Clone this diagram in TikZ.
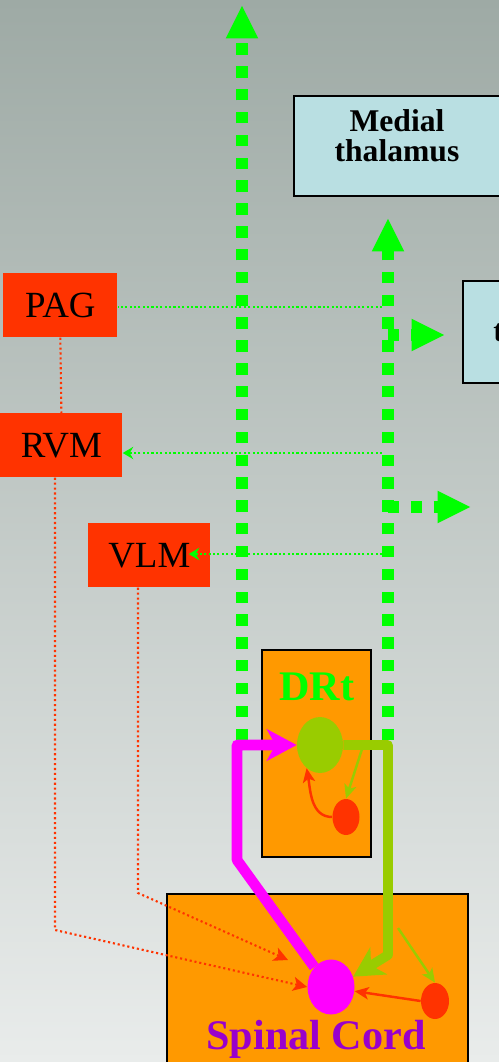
\documentclass[tikz,border=0pt]{standalone}
\usepackage{fontspec}
\setmainfont{Liberation Serif}
\usetikzlibrary{shapes.geometric,arrows.meta,positioning,calc}
\definecolor{nucred}{HTML}{FF3300}
\definecolor{areaorange}{HTML}{FF9900}
\definecolor{thalblue}{HTML}{B9DFE2}
\definecolor{tractgreen}{HTML}{00FF00}
\definecolor{olivecell}{HTML}{99CC00}
\definecolor{pinkcell}{HTML}{FF00FF}
\definecolor{cordpurple}{HTML}{9900CC}
\definecolor{bgtop}{HTML}{9EAAA5}
\definecolor{bgbottom}{HTML}{E9ECEB}
\def\px{0.02cm}

\begin{document}
\begin{tikzpicture}[
  x=0.02cm, y=-0.02cm,
  nuc/.style={rectangle, fill=nucred, anchor=north west, inner sep=0pt,
              minimum height=64*\px, font=\fontsize{21}{21}\selectfont},
  thal/.style={rectangle, draw, line width=1.3pt, fill=thalblue, anchor=north west, inner sep=0pt},
  area/.style={rectangle, draw, line width=1.3pt, fill=areaorange, anchor=north west, inner sep=0pt},
  cell/.style={ellipse, inner sep=0pt},
  tract/.style={draw=tractgreen, line width=6.5pt, dash pattern=on 6.5pt off 6.5pt,
                -{Triangle[length=19pt,width=17pt]}},
  coll/.style={draw=tractgreen, line width=1.2pt, dash pattern=on 1.2pt off 1.3pt},
  ctrl/.style={draw=nucred, line width=1.2pt, dash pattern=on 1.2pt off 1.6pt,
               -{Stealth[length=8pt,width=8pt,inset=2pt]}},
  fine/.style={line width=1.4pt, -{Stealth[length=8pt,width=7pt,inset=2pt]}},
  big/.style={line width=6pt, line join=round, -{Stealth[length=17pt,width=18pt,inset=5pt]}},
]
\useasboundingbox (0,0) rectangle (499,1062);
\clip (0,0) rectangle (499,1062);
\shade[top color=bgtop, bottom color=bgbottom] (0,0) rectangle (499,1062);

% ---- brainstem nuclei ------------------------------------------------------
\foreach \n/\t/\x/\y/\w in {pag/PAG/3/273/114, rvm/RVM/0/413/122, vlm/VLM/88/523/122}{
  \node[nuc, minimum width=\w*\px] (\n) at (\x,\y) {\t};
}

% ---- thalamus --------------------------------------------------------------
\node[thal, minimum width=220*\px, minimum height=100*\px] (medthal) at (293,95) {};
\node[font=\fontsize{18}{17}\selectfont\bfseries, align=center] (medthaltext) at (397,136) {Medial\\thalamus};
\node[thal, minimum width=120*\px, minimum height=102*\px] (latthal) at (462,280) {};
\node[font=\fontsize{18}{18}\selectfont\bfseries, anchor=west, inner sep=0pt] (latthaltext) at (493,333) {t};

% ---- DRt and spinal cord ---------------------------------------------------
\node[area, minimum width=109*\px, minimum height=207*\px] (drt) at (261,649) {};
\node[text=tractgreen, font=\fontsize{24}{24}\selectfont\bfseries] (drtlabel) at (317,687) {DRt};
\node[area, minimum width=301*\px, minimum height=220*\px] (sc) at (166,893) {};
\node[text=cordpurple, font=\fontsize{24}{24}\selectfont\bfseries] (sclabel) at (316,1039) {Spinal Cord};

\node[cell, fill=olivecell, minimum width=46*\px, minimum height=56*\px] (drtcell) at (320,745) {};
\node[cell, fill=nucred, minimum width=27*\px, minimum height=36*\px] (drtint) at (346,817) {};
\node[cell, fill=pinkcell, minimum width=47*\px, minimum height=55*\px] (sccell) at (331,987) {};
\node[cell, fill=nucred, minimum width=28*\px, minimum height=36*\px] (scint) at (435,1001) {};

% ---- ascending tracts --------------------------------------------------------
\coordinate (lttop) at (242,5);
\coordinate (ltfoot) at (242,740);
\coordinate (mttop) at (388,218);
\coordinate (mtfoot) at (388,740);
\draw[tract] (ltfoot) -- (lttop);
\draw[tract] (mtfoot) -- (mttop);
\draw[tract] (388,335) -- (445,335);
\draw[tract] (388,507) -- (471,507);

% collaterals to the brainstem
\draw[coll] (382,307) -- (pag.east |- 0,307);
\draw[coll, -{Stealth[length=6pt,width=7pt,inset=2pt]}] (382,453) -- (rvm.east |- 0,453);
\draw[coll, -{Stealth[length=6pt,width=7pt,inset=2pt]}] (382,554) -- ([xshift=-22*\px]vlm.east |- 0,554);

% ---- descending control ------------------------------------------------------
\coordinate (rvmbend) at (55,930);
\coordinate (vlmbend) at (138,893);
\coordinate (vlmend) at (288,960);
\draw[draw=nucred, line width=1.2pt, dash pattern=on 1.2pt off 1.6pt] (pag.south) -- (rvm.north);
\draw[ctrl] (rvm.south -| rvmbend) -- (rvmbend) -- (sccell.west);
\draw[ctrl] (vlm.south -| vlmbend) -- (vlmbend) -- (vlmend);

% ---- spinal / DRt loop -------------------------------------------------------
\coordinate (pinkbend) at (237,860);
\coordinate (pinkcorner) at (237,745);
\draw[big, pinkcell] (sccell.130) -- (pinkbend) -- (pinkcorner) -- (drtcell.west);
\coordinate (olivebend) at (388,955);
\draw[big, olivecell, line width=5.5pt] (drtcell.east) -| (olivebend) -- (sccell.25);

\coordinate (drtbranch) at (363,746);
\coordinate (scbranch) at (398,928);
\draw[fine, olivecell] (drtbranch) -- (drtint.north);
\draw[fine, olivecell] (scbranch) -- (scint.north);
\draw[fine, nucred] (drtint.west) to[out=180, in=-80] (drtcell.240);
\draw[fine, nucred] (scint.west) -- (sccell.-10);
\end{tikzpicture}
\end{document}
